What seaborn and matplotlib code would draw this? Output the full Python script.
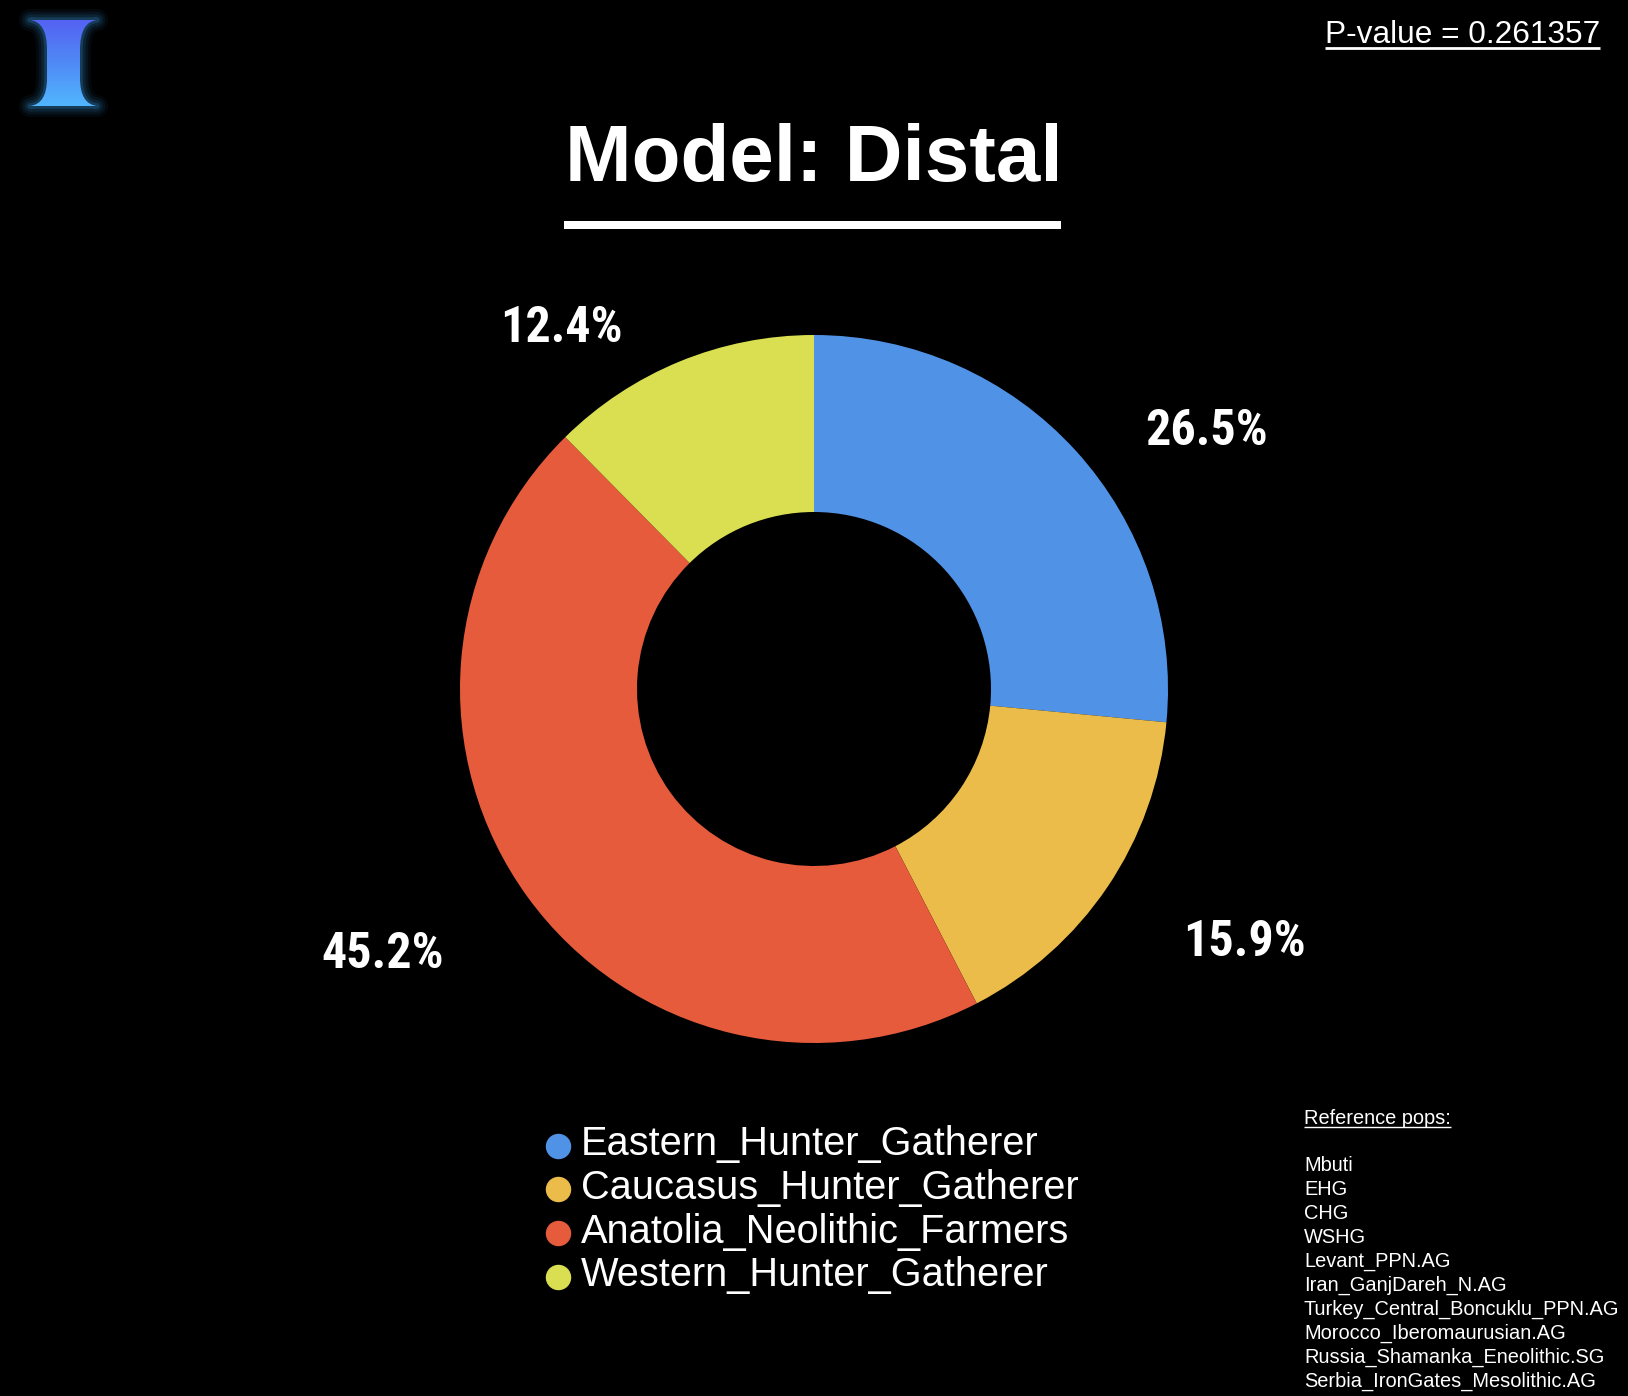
import numpy as np
import matplotlib
matplotlib.use("Agg")
import matplotlib.pyplot as plt
import seaborn as sns
from matplotlib.path import Path
from matplotlib.patches import PathPatch, Rectangle
from matplotlib.colors import LinearSegmentedColormap

# ---------------- data ----------------
categories = ["Eastern_Hunter_Gatherer", "Caucasus_Hunter_Gatherer",
              "Anatolia_Neolithic_Farmers", "Western_Hunter_Gatherer"]
values = [26.5, 15.9, 45.2, 12.4]
colors = ["#5093E6", "#EBBC4A", "#E55B3C", "#D9DF50"]
title = "Model: Distal"
pvalue_text = "P-value = 0.261357"
ref_title = "Reference pops:"
ref_pops = ["Mbuti", "EHG", "CHG", "WSHG", "Levant_PPN.AG", "Iran_GanjDareh_N.AG",
            "Turkey_Central_Boncuklu_PPN.AG", "Morocco_Iberomaurusian.AG",
            "Russia_Shamanka_Eneolithic.SG", "Serbia_IronGates_Mesolithic.AG"]
# percentage label placement (style): radial distance in pie radii, angular shift in degrees
label_dist = [1.332, 1.406, 1.425, 1.252]
label_shift = [-8.6, 4.0, -4.8, 12.4]

sns.set_theme(style="white")
plt.rcParams["font.family"] = ["Liberation Sans", "DejaVu Sans"]
palette = sns.color_palette(colors)

W, H = 1628, 1396
fig = plt.figure(figsize=(W / 100, H / 100), dpi=100, facecolor="black")

# overlay axes in pixel coordinates
ov = fig.add_axes([0, 0, 1, 1])
ov.set_xlim(0, W)
ov.set_ylim(H, 0)
ov.axis("off")
ov.set_facecolor("none")

# ---------------- pie ----------------
cx, cy, R = 814, 689, 354
S = 1.6
L = R * S
ax = fig.add_axes([(cx - L) / W, (H - cy - L) / H, 2 * L / W, 2 * L / H])
wedges, _ = ax.pie(values, colors=palette, startangle=90, counterclock=False,
                   radius=1.0, wedgeprops=dict(width=0.5, edgecolor="none", linewidth=0))
ax.set_xlim(-S, S)
ax.set_ylim(-S, S)
ax.set_aspect("equal")
ax.axis("off")

lab_family = ["Roboto Condensed", "Liberation Sans Narrow", "DejaVu Sans"]
for w, v, d, sh in zip(wedges, values, label_dist, label_shift):
    ang = np.deg2rad((w.theta1 + w.theta2) / 2 + sh)
    ax.annotate(f"{v:.1f}%", xy=(d * np.cos(ang), d * np.sin(ang)),
                xytext=(0, -4), textcoords="offset pixels", ha="center", va="center",
                color="white", fontsize=36, fontweight="bold", family=lab_family)

# ---------------- title ----------------
ov.text(cx, 181, title, ha="center", va="baseline", color="white",
        fontsize=57.5, fontweight="bold")
ov.add_patch(Rectangle((564, 221), 497, 8, color="white", lw=0))

# ---------------- legend ----------------
for i, (cat, col) in enumerate(zip(categories, palette)):
    yb = 1155 + i * 43.8
    ov.plot([558], [yb - 9.5], marker="o", markersize=17.3, color=col, lw=0)
    ov.text(581, yb, cat, ha="left", va="baseline", color="white", fontsize=28.6)

# ---------------- p-value ----------------
renderer = fig.canvas.get_renderer()

def underline(t, lw, off):
    bb = t.get_window_extent(renderer=renderer)
    inv = ov.transData.inverted()
    (x0, _), (x1, _) = inv.transform([(bb.x0, bb.y0), (bb.x1, bb.y0)])
    y = t.get_position()[1] + off
    ov.plot([x0, x1], [y, y], color="white", lw=lw, solid_capstyle="butt")

pt = ov.text(1600, 43, pvalue_text, ha="right", va="baseline", color="white", fontsize=22.8)
underline(pt, 2.0, 4.5)

# ---------------- reference pops ----------------
rt = ov.text(1304, 1124, ref_title, ha="left", va="baseline", color="white", fontsize=14.4)
underline(rt, 1.0, 3)
for i, p in enumerate(ref_pops):
    ov.text(1304, 1171 + i * 24, p, ha="left", va="baseline", color="white", fontsize=14.4)

# ---------------- logo ----------------
lg = fig.add_axes([0, 0, 1, 1])
lg.set_xlim(0, W)
lg.set_ylim(H, 0)
lg.axis("off")
lg.set_facecolor("none")
verts = [(30, 20), (97, 20), (80, 22), (80, 50), (80, 78), (80, 104), (97, 106),
         (30, 106), (47, 104), (47, 78), (47, 50), (47, 22), (30, 20), (30, 20)]
codes = [Path.MOVETO, Path.LINETO, Path.CURVE3, Path.CURVE3, Path.LINETO,
         Path.CURVE3, Path.CURVE3, Path.LINETO, Path.CURVE3, Path.CURVE3,
         Path.LINETO, Path.CURVE3, Path.CURVE3, Path.CLOSEPOLY]
logo_path = Path(verts, codes)
for lw, a in [(16, 0.05), (12, 0.07), (8, 0.1), (4, 0.18)]:
    lg.add_patch(PathPatch(logo_path, facecolor="none", edgecolor="#3FB0FF",
                           lw=lw, alpha=a, joinstyle="round"))
patch = PathPatch(logo_path, facecolor="none", edgecolor="none")
lg.add_patch(patch)
grad = np.linspace(0, 1, 256).reshape(-1, 1)
cmap = LinearSegmentedColormap.from_list("lg", ["#5560F2", "#4F8AF5", "#52B8FF"])
im = lg.imshow(grad, cmap=cmap, extent=(28, 99, 108, 18), aspect="auto", zorder=3)
im.set_clip_path(patch)
lg.set_xlim(0, W)
lg.set_ylim(H, 0)

fig.savefig("out.png", dpi=100, facecolor="black")
